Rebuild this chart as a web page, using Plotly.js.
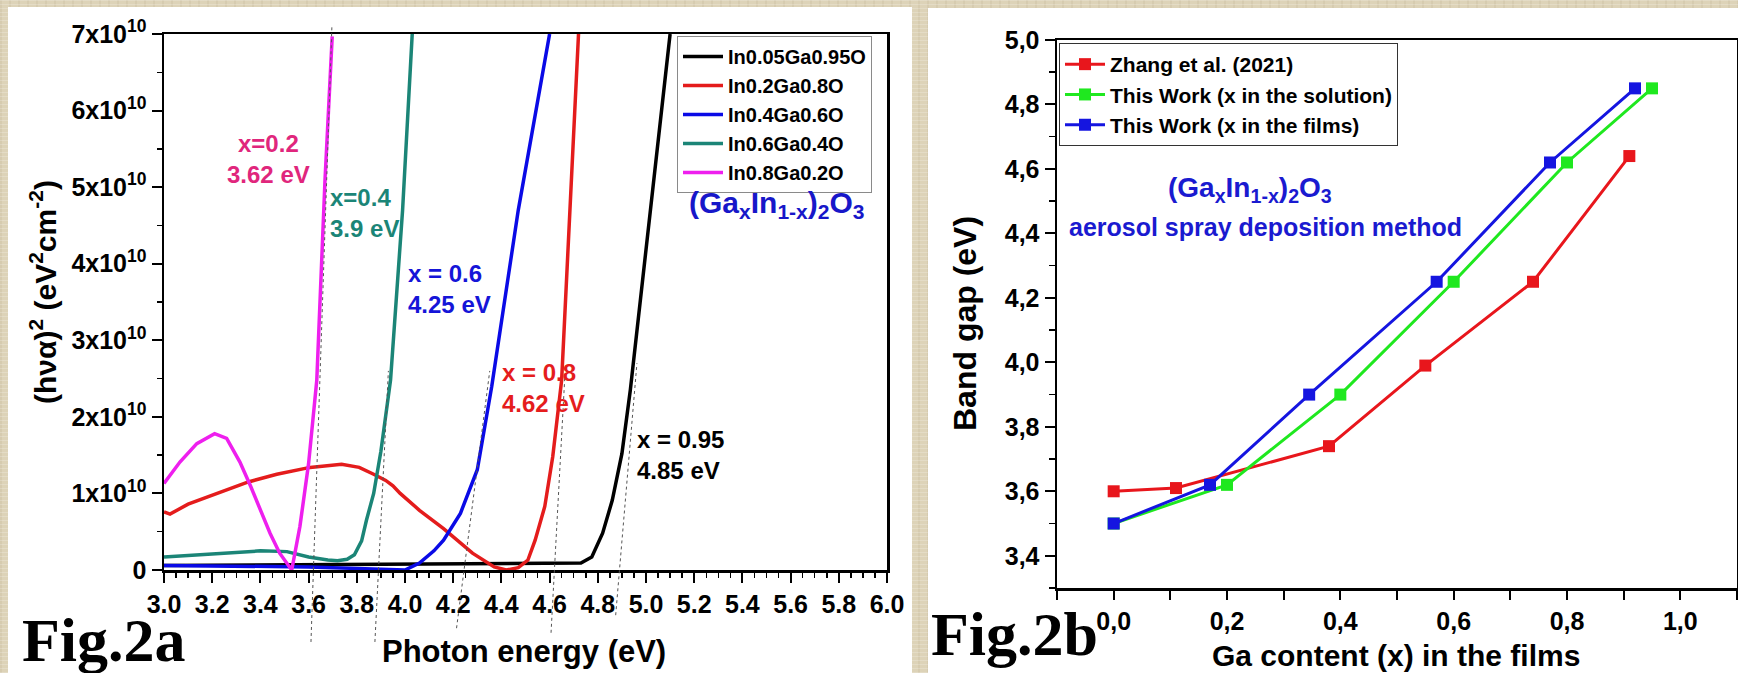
<!DOCTYPE html>
<html>
<head>
<meta charset="utf-8">
<script src="https://cdn.plot.ly/plotly-3.0.1.min.js"></script>
<style>
html,body{margin:0;padding:0;width:1738px;height:673px;overflow:hidden;
background-color:#ddd3b8;
background-image:
 repeating-linear-gradient(0deg, rgba(255,255,255,0.20) 0px, rgba(255,255,255,0.20) 1px, rgba(0,0,0,0) 1px, rgba(0,0,0,0) 4px),
 repeating-linear-gradient(90deg, rgba(120,100,60,0.07) 0px, rgba(120,100,60,0.07) 2px, rgba(0,0,0,0) 2px, rgba(0,0,0,0) 9px);}
#chart{width:1738px;height:673px;}
</style>
</head>
<body>
<div id="chart"></div>
<script>
// ---------- Fig.2a data : (h nu alpha)^2 in units of 1e10 eV^2 cm^-2 vs photon energy (eV)
const energyX095 = [3.0,3.5,4.0,4.5,4.73,4.775,4.82,4.86,4.9,4.935,5.0,5.1];
const absX095    = [0.06,0.07,0.08,0.09,0.09,0.17,0.48,0.91,1.52,2.35,4.2,7.0];

const energyX08 = [3.0,3.025,3.1,3.2,3.26,3.35,3.468,3.606,3.737,3.81,3.87,3.92,3.95,3.98,4.06,4.16,4.28,4.37,4.42,4.47,4.51,4.54,4.58,4.613,4.65,4.72];
const absX08    = [0.76,0.73,0.86,0.98,1.04,1.15,1.25,1.34,1.38,1.34,1.25,1.17,1.1,1.0,0.78,0.54,0.22,0.04,0.0,0.03,0.13,0.39,0.83,1.48,2.48,7.0];

const energyX06 = [3.0,3.3,3.6,3.9,4.0,4.06,4.12,4.16,4.23,4.3,4.36,4.47,4.6];
const absX06    = [0.06,0.05,0.04,0.01,0.0,0.09,0.25,0.39,0.74,1.31,2.4,4.7,7.0];

const energyX04 = [3.0,3.2,3.4,3.51,3.6,3.68,3.72,3.76,3.79,3.82,3.84,3.87,3.9,3.94,3.99,4.03];
const absX04    = [0.17,0.21,0.25,0.24,0.17,0.13,0.12,0.14,0.2,0.38,0.65,1.0,1.55,2.48,4.7,7.0];

const energyX02 = [3.0,3.066,3.136,3.21,3.26,3.315,3.36,3.40,3.44,3.48,3.53,3.564,3.60,3.634,3.668,3.698];
const absX02    = [1.13,1.41,1.65,1.78,1.72,1.41,1.09,0.78,0.48,0.22,0.0,0.57,1.39,2.48,5.09,6.97];

const seriesNamesA = ['In0.05Ga0.95O','In0.2Ga0.8O','In0.4Ga0.6O','In0.6Ga0.4O','In0.8Ga0.2O'];
const seriesColorsA = ['#000000','#e41c1c','#0a0ae6','#1b8577','#ee1fee'];

// band-gap extrapolation (tangent) lines: x-axis intercept, dE per 1e10, extent
const tangentIntercept = [3.62, 3.89, 4.245, 4.62, 4.89];
const tangentSlope     = [0.0108, 0.0158, 0.041, 0.0171, 0.0268];
const tangentVBottom   = [-0.94, -0.94, -0.76, -0.82, -0.59];
const tangentVTop      = [7.11, 2.6, 2.6, 2.5, 2.7];

const yTickValsA = [0,1,2,3,4,5,6,7];
const yTickTextA = ['0','1x10<sup>10</sup>','2x10<sup>10</sup>','3x10<sup>10</sup>','4x10<sup>10</sup>','5x10<sup>10</sup>','6x10<sup>10</sup>','7x10<sup>10</sup>'];

// ---------- Fig.2b data : band gap vs Ga content
const gaZhang    = [0.0,0.11,0.38,0.55,0.74,0.91];
const gapZhang   = [3.60,3.61,3.74,3.99,4.25,4.64];
const gaSolution = [0.0,0.2,0.4,0.6,0.8,0.95];
const gapSolution= [3.50,3.62,3.90,4.25,4.62,4.85];
const gaFilms    = [0.0,0.17,0.345,0.57,0.77,0.92];
const gapFilms   = [3.50,3.62,3.90,4.25,4.62,4.85];
const seriesNamesB = ['Zhang et al. (2021)','This Work (x in the solution)','This Work (x in the films)'];
const seriesColorsB = ['#e8161c','#1fe81f','#1515e0'];

const xTickValsB = [0.0,0.2,0.4,0.6,0.8,1.0];
const xTickTextB = ['0,0','0,2','0,4','0,6','0,8','1,0'];
const yTickValsB = [3.4,3.6,3.8,4.0,4.2,4.4,4.6,4.8,5.0];
const yTickTextB = ['3,4','3,6','3,8','4,0','4,2','4,4','4,6','4,8','5,0'];

// ---------- layout helpers (pixel -> paper)
const W = 1738, H = 673;
const px = x => x / W;
const py = y => 1 - y / H;
const LA = {x0:164, x1:887, y0:34, y1:570};
const LB = {x0:1057, x1:1737, y0:40, y1:588};
const FONT = '"Liberation Sans", Arial, Helvetica, sans-serif';
const SERIF = '"Liberation Serif", "Times New Roman", serif';

const energyA = [energyX095, energyX08, energyX06, energyX04, energyX02];
const absA = [absX095, absX08, absX06, absX04, absX02];

const traces = [];
for (let i = 0; i < 5; i++) {
  traces.push({
    x: energyA[i], y: absA[i], type:'scatter', mode:'lines',
    name: seriesNamesA[i], xaxis:'x', yaxis:'y', legend:'legend',
    line:{color: seriesColorsA[i], width:3.5}
  });
}
const gaB = [gaZhang, gaSolution, gaFilms];
const gapB = [gapZhang, gapSolution, gapFilms];
for (let i = 0; i < 3; i++) {
  traces.push({
    x: gaB[i], y: gapB[i], type:'scatter', mode:'lines+markers',
    name: seriesNamesB[i], xaxis:'x2', yaxis:'y2', legend:'legend2',
    line:{color: seriesColorsB[i], width:3},
    marker:{symbol:'square', size:12, color: seriesColorsB[i]}
  });
}

const yDomA = [py(LA.y1), py(LA.y0)];
const yRangeA = [0, 7];
const paperFromV = v => yDomA[0] + (v - yRangeA[0]) / (yRangeA[1] - yRangeA[0]) * (yDomA[1] - yDomA[0]);

const shapes = [
  {type:'rect', xref:'paper', yref:'paper', x0:px(8), x1:px(912), y0:0, y1:py(7), fillcolor:'#ffffff', line:{width:0}, layer:'below'},
  {type:'rect', xref:'paper', yref:'paper', x0:px(928), x1:1, y0:0, y1:py(8), fillcolor:'#ffffff', line:{width:0}, layer:'below'}
];
for (let i = 0; i < tangentIntercept.length; i++) {
  shapes.push({
    type:'line', xref:'x', yref:'paper',
    x0: tangentIntercept[i] + tangentSlope[i] * tangentVBottom[i], y0: paperFromV(tangentVBottom[i]),
    x1: tangentIntercept[i] + tangentSlope[i] * tangentVTop[i], y1: paperFromV(tangentVTop[i]),
    line:{color:'#555555', width:1, dash:'3px,3px'}, layer:'above'
  });
}

const ann = (text, x, y, size, color, opts) => Object.assign({
  text, x: px(x), y: py(y), xref:'paper', yref:'paper', showarrow:false,
  xanchor:'center', yanchor:'middle', font:{family:FONT, size, color, weight:700}
}, opts || {});

const annotations = [
  ann('(hνα)<sup>2</sup> (eV<sup>2</sup>cm<sup>-2</sup>)', 43, 292, 30, '#000', {textangle:-90}),
  ann('Photon energy (eV)', 524, 651, 31, '#000'),
  ann('Fig.2a', 20, 640, 62, '#000', {xanchor:'left', font:{family:SERIF, size:62, color:'#000', weight:700}}),
  ann('Band gap (eV)', 965, 324, 32, '#000', {textangle:-90}),
  ann('Ga content (x) in the films', 1396, 655, 30, '#000'),
  ann('Fig.2b', 929, 634, 62, '#000', {xanchor:'left', font:{family:SERIF, size:62, color:'#000', weight:700}}),
  ann('(Ga<sub>x</sub>In<sub>1-x</sub>)<sub>2</sub>O<sub>3</sub>', 776, 204, 30, '#1717c9'),
  ann('(Ga<sub>x</sub>In<sub>1-x</sub>)<sub>2</sub>O<sub>3</sub>', 1250, 189, 28, '#1a1ad0'),
  ann('aerosol spray deposition method', 1265, 227, 25, '#1a1ad0'),
  ann('x=0.2<br>3.62 eV', 268, 159, 24, '#e0267c'),
  ann('x=0.4<br>3.9 eV', 328, 213, 24, '#1b8577', {xanchor:'left', align:'left'}),
  ann('x = 0.6<br>4.25 eV', 406, 289, 24, '#1515d8', {xanchor:'left', align:'left'}),
  ann('x = 0.8<br>4.62 eV', 500, 388, 24, '#e51d1d', {xanchor:'left', align:'left'}),
  ann('x = 0.95<br>4.85 eV', 635, 455, 24, '#000000', {xanchor:'left', align:'left'})
];

const axisCommon = {showgrid:false, zeroline:false, showline:true, linecolor:'#000', ticks:'outside', tickcolor:'#000',
  tickfont:{family:FONT, size:25, color:'#000', weight:700}};

const layout = {
  width:W, height:H, margin:{l:0, r:0, t:0, b:0},
  paper_bgcolor:'rgba(0,0,0,0)', plot_bgcolor:'#ffffff',
  font:{family:FONT, color:'#000', weight:700},
  showlegend:true,
  xaxis: Object.assign({}, axisCommon, {
    domain:[px(LA.x0), px(LA.x1)], range:[3.0, 6.0], anchor:'y',
    tickmode:'linear', tick0:3.0, dtick:0.2, tickformat:'.1f',
    ticklen:10, tickwidth:2, linewidth:2.5, mirror:true,
    minor:{ticks:'outside', tickmode:'linear', tick0:3.0, dtick:0.05, ticklen:5, tickwidth:1.5, tickcolor:'#000', showgrid:false}
  }),
  yaxis: Object.assign({}, axisCommon, {
    domain:yDomA, range:yRangeA, anchor:'x',
    tickmode:'array', tickvals:yTickValsA, ticktext:yTickTextA,
    ticklen:10, tickwidth:2, linewidth:2.5, mirror:true,
    minor:{ticks:'outside', tickmode:'linear', tick0:0, dtick:0.5, ticklen:5, tickwidth:1.5, tickcolor:'#000', showgrid:false}
  }),
  xaxis2: Object.assign({}, axisCommon, {
    domain:[px(LB.x0), px(LB.x1)], range:[-0.1, 1.1], anchor:'y2',
    tickmode:'array', tickvals:xTickValsB, ticktext:xTickTextB,
    ticklen:9, tickwidth:2, linewidth:2.5, mirror:true,
    minor:{ticks:'outside', tickmode:'linear', tick0:-0.1, dtick:0.2, ticklen:9, tickwidth:2, tickcolor:'#000', showgrid:false}
  }),
  yaxis2: Object.assign({}, axisCommon, {
    domain:[py(LB.y1), py(LB.y0)], range:[3.3, 5.0], anchor:'x2',
    tickmode:'array', tickvals:yTickValsB, ticktext:yTickTextB,
    ticklen:10, tickwidth:2, linewidth:2.5, mirror:true,
    minor:{ticks:'outside', tickmode:'linear', tick0:3.3, dtick:0.2, ticklen:6, tickwidth:1.5, tickcolor:'#000', showgrid:false}
  }),
  legend:{x:px(677), y:py(36), xanchor:'left', yanchor:'top', bgcolor:'#ffffff', bordercolor:'#8a8a8a', borderwidth:1,
    font:{family:FONT, size:20, color:'#000', weight:700}, tracegroupgap:0, itemwidth:40},
  legend2:{x:px(1059), y:py(43), xanchor:'left', yanchor:'top', bgcolor:'#ffffff', bordercolor:'#333', borderwidth:1,
    font:{family:FONT, size:21, color:'#000', weight:700}, tracegroupgap:0, itemwidth:40},
  shapes, annotations
};

Plotly.newPlot('chart', traces, layout, {displayModeBar:false, staticPlot:true});
</script>
</body>
</html>
